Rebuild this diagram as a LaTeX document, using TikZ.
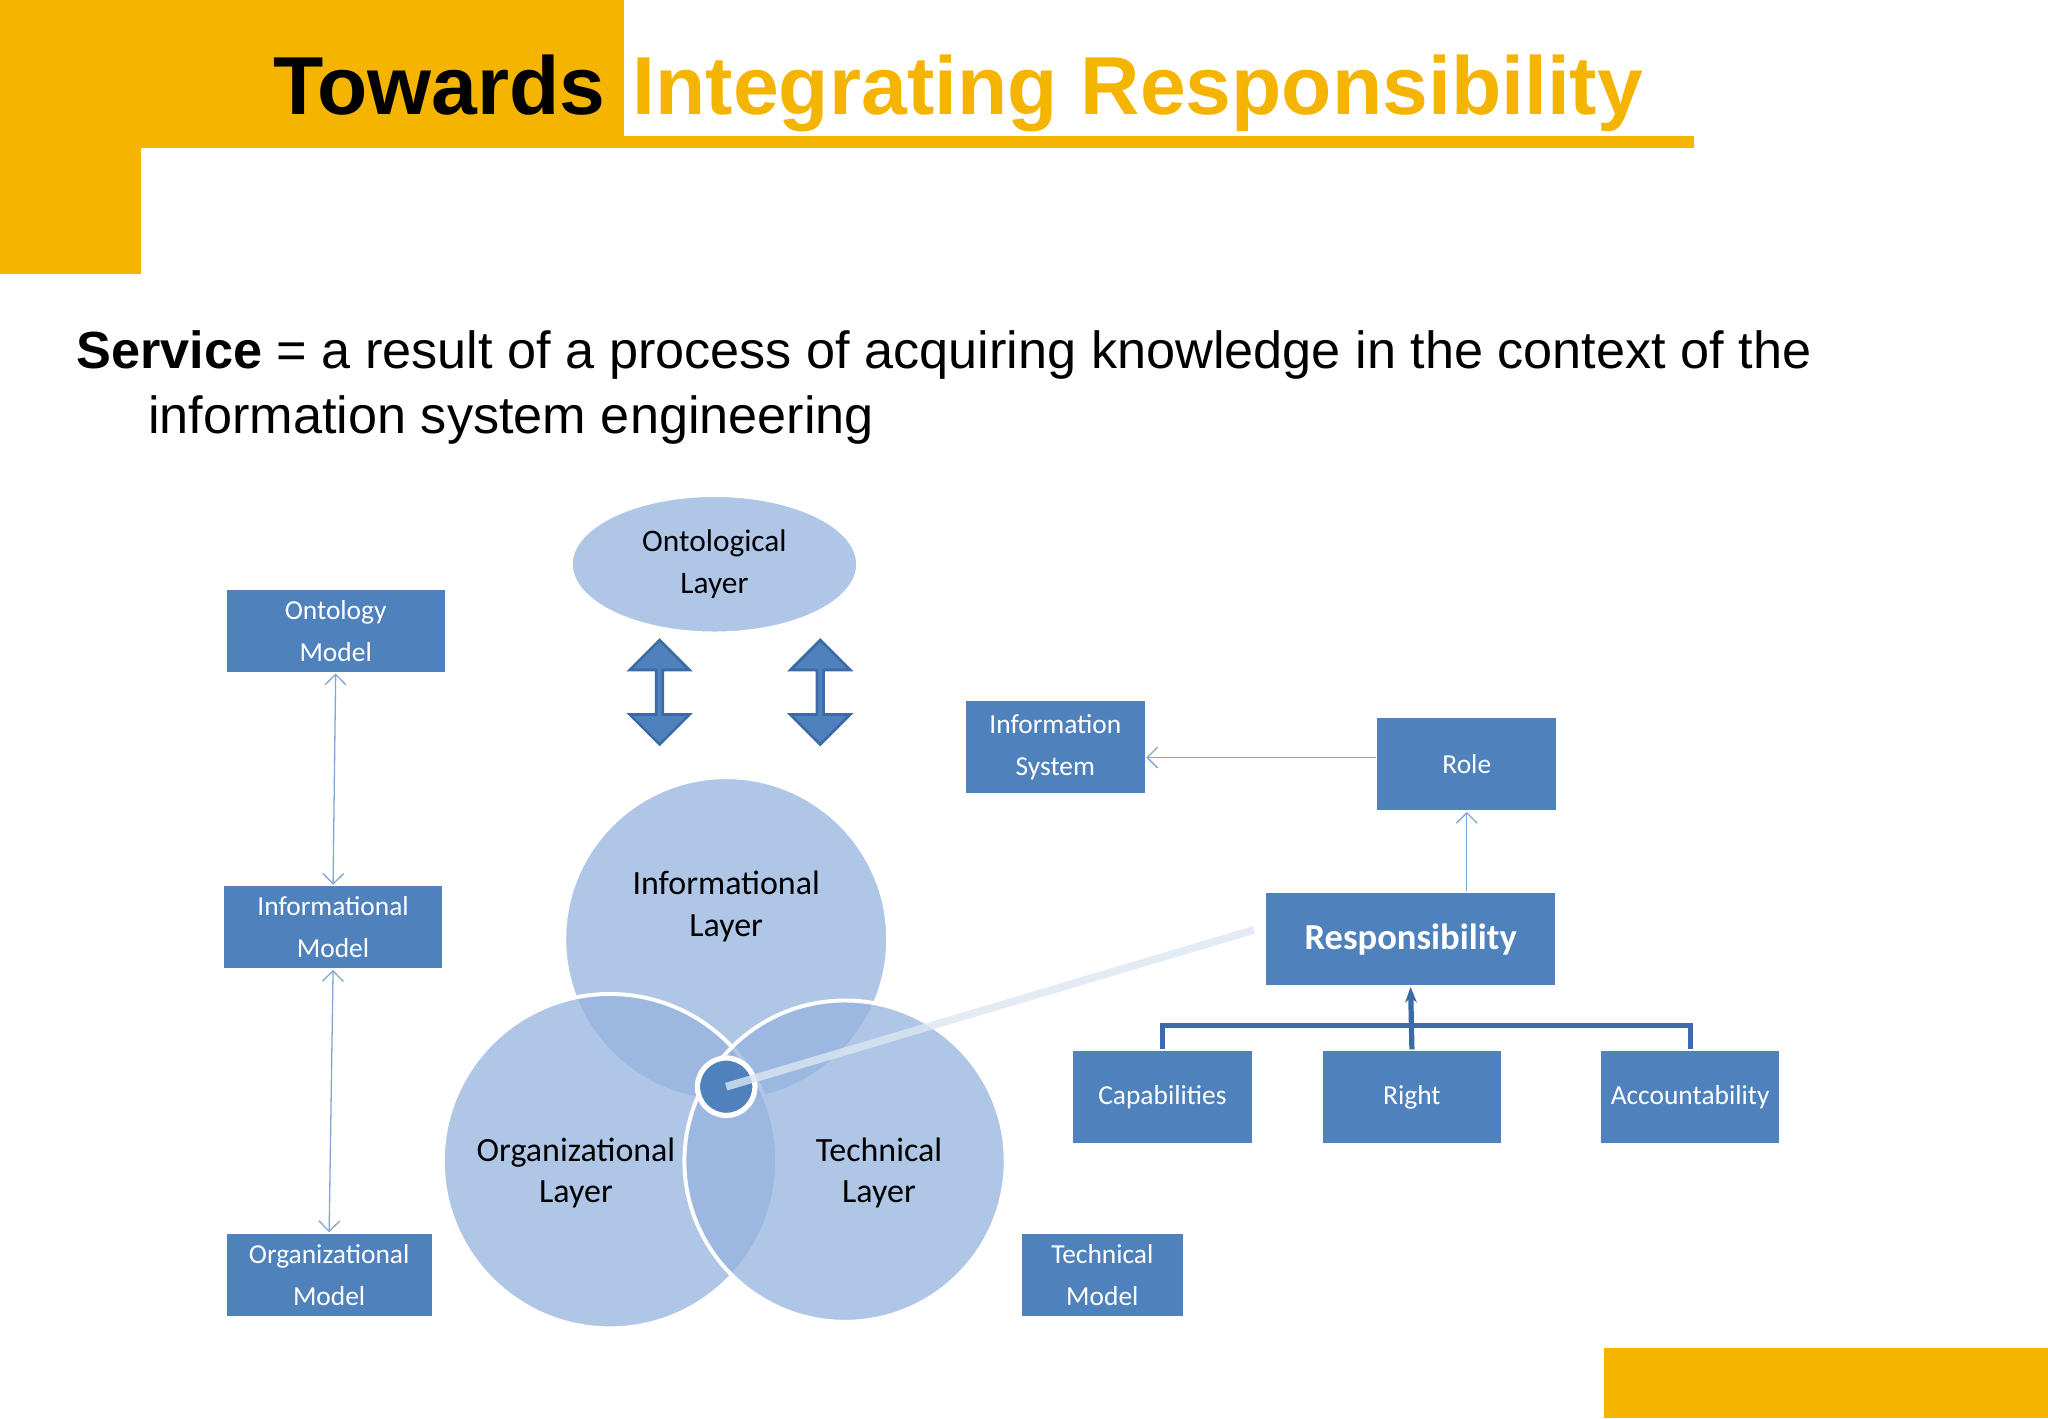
\documentclass[tikz,border=0pt]{standalone}
\usepackage{fontspec}
\setmainfont{Liberation Sans}
\newfontfamily\calfont{Carlito}
\usetikzlibrary{shapes.geometric,shapes.arrows,arrows.meta}
\definecolor{org}{HTML}{F5B400}
\definecolor{bx}{HTML}{4F81BD}
\definecolor{lb}{HTML}{95B3DE}
\definecolor{db}{HTML}{3B6AA6}
\tikzset{
 bbox/.style={fill=bx,draw=white,line width=0.6pt,text=white,font=\calfont\fontsize{10.5}{16}\selectfont,align=center,inner sep=0pt},
 lay/.style={fill=lb,fill opacity=0.75,draw=white,line width=1.5pt,text opacity=1,font=\calfont\fontsize{12}{16}\selectfont,align=center},
 thin/.style={draw=bx!70,line width=0.5pt,-{Straight Barb[length=4pt]}},
 dbl/.style={double arrow,shape border rotate=90,fill=bx,draw=db,line width=1pt,minimum width=23pt,double arrow head extend=4pt,double arrow head indent=0pt,minimum height=40pt,inner sep=0pt},
}
\begin{document}
\begin{tikzpicture}[x=0.5pt,y=-0.5pt]
\useasboundingbox (0,0) rectangle (1568,1086);
\fill[org] (0,0) rectangle (108,210);
\fill[org] (0,0) rectangle (478,113);
\fill[org] (478,104) rectangle (1297,113);
\fill[org] (1228,1032) rectangle (1568,1086);
\node[anchor=base east,font=\bfseries\fontsize{31.5}{36}\selectfont,inner sep=0pt] (t1) at (464,88) {Towards};
\node[anchor=base west,font=\bfseries\fontsize{31.5}{36}\selectfont,text=org,inner sep=0pt] (t2) at (484,88) {Integrating Responsibility};
\node[anchor=base west,font=\fontsize{20}{25}\selectfont,inner sep=0pt] (s1) at (58,282) {\textbf{Service} = a result of a process of acquiring knowledge in the context of the};
\node[anchor=base west,font=\fontsize{20}{25}\selectfont,inner sep=0pt] (s2) at (113,332) {information system engineering};
% layers
\node[ellipse,lay,minimum width=110pt,minimum height=53pt] (ont) at (547,432) {Ontological\\Layer};
\node[dbl] (d1) at (505,530) {};
\node[dbl] (d2) at (628,530) {};
\node[circle,lay,minimum size=124pt] (inf) at (556,719) {};
\node[circle,lay,minimum size=128pt] (orgc) at (467,889) {};
\node[circle,lay,minimum size=123pt] (tec) at (647,889) {};
\node[font=\calfont\fontsize{13}{16}\selectfont,align=center] (infl) at (556,694) {Informational\\Layer};
\node[font=\calfont\fontsize{13}{16}\selectfont,align=center] (orgl) at (441,898) {Organizational\\Layer};
\node[font=\calfont\fontsize{13}{16}\selectfont,align=center] (tecl) at (673,898) {Technical\\Layer};
\node[circle,fill=bx,draw=white,line width=2pt,minimum size=22pt,inner sep=0pt] (core) at (556,832) {};
% models
\node[bbox,minimum width=84pt,minimum height=32pt] (om) at (257,483) {Ontology\\Model};
\node[bbox,minimum width=84pt,minimum height=32pt] (im) at (255,710) {Informational\\Model};
\node[bbox,minimum width=79pt,minimum height=32pt] (ogm) at (252,976) {Organizational\\Model};
\node[bbox,minimum width=62pt,minimum height=32pt] (tm) at (844,976) {Technical\\Model};
\draw[thin,{Straight Barb[length=4pt]}-{Straight Barb[length=4pt]}] (om.south) -- (im.north);
\draw[thin,{Straight Barb[length=4pt]}-{Straight Barb[length=4pt]}] (im.south) -- (ogm.north);
% responsibility
\node[bbox,minimum width=69pt,minimum height=36pt] (is) at (808,572) {Information\\System};
\node[bbox,minimum width=69pt,minimum height=36pt] (role) at (1123,585) {Role};
\node[bbox,minimum width=111pt,minimum height=36pt,font=\calfont\bfseries\fontsize{14}{16}\selectfont] (resp) at (1080,719) {Responsibility};
\node[bbox,minimum width=69pt,minimum height=36pt] (cap) at (890,840) {Capabilities};
\node[bbox,minimum width=69pt,minimum height=36pt] (rig) at (1081,840) {Right};
\node[bbox,minimum width=69pt,minimum height=36pt] (acc) at (1294,840) {Accountability};
\coordinate (ra) at ([yshift=2.5pt]role.west);
\draw[thin] (ra) -- (ra -| is.east);
\draw[thin] (resp.north -| role.south) -- (role.south);
\draw[db,line width=2pt] (cap.north) -- ++(0,-18) -| (acc.north);
\draw[db,line width=2pt,-{Stealth[length=6pt]}] (rig.north) -- (resp.south);
\draw[white!80!bx,opacity=0.8,line width=3pt] (core.center) -- (960,712);
\end{tikzpicture}
\end{document}
